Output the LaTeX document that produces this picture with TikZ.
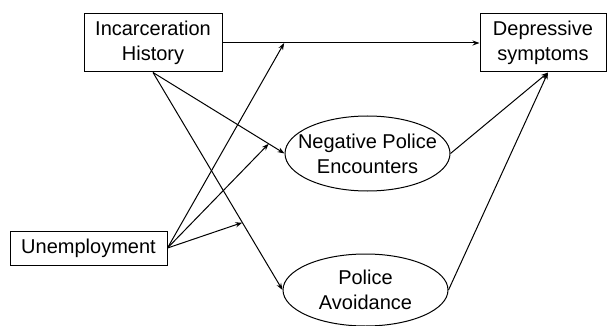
\documentclass[tikz,border=0pt]{standalone}
\usepackage{fontspec}
\setmainfont{Liberation Sans}
\usetikzlibrary{arrows.meta,shapes.geometric}
\begin{document}
\begin{tikzpicture}[x=1pt,y=-1pt,line width=1pt,font=\fontsize{20}{25}\selectfont,
box/.style={draw,align=center,inner sep=0pt},
oval/.style={draw,ellipse,align=center,inner xsep=-15pt,inner ysep=-5pt,minimum width=165pt,minimum height=75pt},
arr/.style={-{Stealth[length=7pt,width=5pt]}}]
\useasboundingbox(0,0)rectangle(607,326);
\node[box,minimum width=138pt,minimum height=58pt](inc)at(153,43){Incarceration\\History};
\node[box,minimum width=126pt,minimum height=58pt](dep)at(543,43){Depressive\\symptoms};
\node[box,minimum width=157pt,minimum height=34pt](unemp)at(88.5,248){Unemployment};
\node[oval](neg)at(367.5,153.5){Negative Police\\Encounters};
\node[oval,minimum height=72pt](avoid)at(365.5,290){Police\\Avoidance};
% direct paths
\draw[arr](inc)--(dep)coordinate[pos=.24](m1);
\draw[arr](inc.south)--(neg.west)coordinate[pos=.88](m2);
\draw[arr](inc.south)--(avoid.west)coordinate[pos=.69](m3);
\draw[arr](neg.east)--([xshift=5pt]dep.south);
\draw[arr](avoid.east)--([xshift=5pt]dep.south);
% moderation by unemployment
\draw[arr](unemp.east)--(m1);
\draw[arr](unemp.east)--(m2);
\draw[arr](unemp.east)--(m3);
\end{tikzpicture}
\end{document}
